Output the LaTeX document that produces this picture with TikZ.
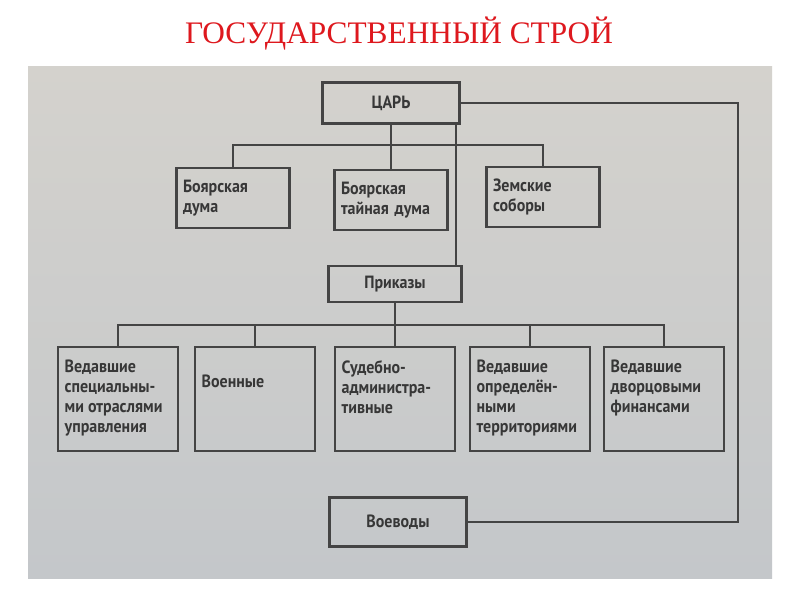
\documentclass[tikz,border=0pt]{standalone}
\usepackage{fontspec}
\setmainfont{Liberation Serif}
\newfontfamily\boxfont[FakeStretch=0.9]{PT Sans}
\begin{document}
\begin{tikzpicture}[x=0.75pt, y=-0.75pt,
        orgbox/.style={draw=linecolor, line width=2pt, text=inkcolor, inner sep=0pt,
            font=\boxfont\bfseries\fontsize{13.3pt}{15pt}\selectfont},
        headbox/.style={orgbox, minimum width=103pt, minimum height=31pt},
        midbox/.style={orgbox, text width=75pt, inner xsep=5pt, align=left, minimum height=45pt},
        lowbox/.style={orgbox, inner xsep=5pt, inner ysep=4pt,
            execute at begin node={\begin{minipage}[c][70pt][t]{80pt}\raggedright\vspace*{6pt}},
            execute at end node={\end{minipage}}},
        link/.style={draw=linecolor, line width=1.5pt}]
    \definecolor{titlered}{RGB}{222, 24, 30}
    \definecolor{papertop}{RGB}{212, 210, 205}
    \definecolor{paperbottom}{RGB}{196, 199, 202}
    \definecolor{linecolor}{RGB}{68, 68, 68}
    \definecolor{inkcolor}{RGB}{55, 55, 55}

    \useasboundingbox (0,0) rectangle (800,600);
    \fill[white] (0,0) rectangle (800,600);
    \shade[top color=papertop, bottom color=paperbottom] (28,66) rectangle (772,578);

    \node[font=\fontsize{23.5pt}{28pt}\selectfont, text=titlered, anchor=base] (title) at (399,43) {ГОСУДАРСТВЕННЫЙ СТРОЙ};

    \node[headbox] (tsar) at (391,103) {ЦАРЬ};
    \node[midbox] (duma) at (233,198) {Боярская\\дума};
    \node[midbox] (tainaya) at (391,200) {Боярская\\тайная дума};
    \node[midbox] (sobory) at (543,197) {Земские\\соборы};
    \node[headbox, minimum width=100pt, minimum height=27pt] (prikazy) at (395,284) {Приказы};
    \node[headbox, minimum height=37pt] (voevody) at (398,522) {Воеводы};

    \foreach \i/\cx/\txt in {1/118/{Ведавшие\\специальны-\\ми отраслями\\управления},
            2/255/{\vspace*{11pt}Военные},
            3/395/{Судебно-\\администра-\\тивные},
            4/530/{Ведавшие\\определён-\\ными\\территориями},
            5/664/{Ведавшие\\дворцовыми\\финансами}} {
            \node[lowbox] (br\i) at (\cx,399) {\txt};
        }

    \coordinate (topbus) at (391,145);
    \coordinate (lowbus) at (395,325);
    \coordinate (rightx) at (738,0);

    \draw[link] (tsar.south) -- (tainaya.north);
    \draw[link] (duma.north) |- (topbus) -| (sobory.north);
    \draw[link] ([xshift=-4]tsar.south east) -- ([xshift=-4]tsar.south east |- prikazy.north);
    \draw[link] (prikazy.south) -- (br3.north);
    \draw[link] (br1.north) |- (lowbus) -| (br5.north);
    \foreach \i in {2,4} {
            \draw[link] (br\i.north) -- (br\i.north |- lowbus);
        }
    \draw[link] (tsar.east) -- (tsar.east -| rightx) |- (voevody.east);
\end{tikzpicture}
\end{document}
